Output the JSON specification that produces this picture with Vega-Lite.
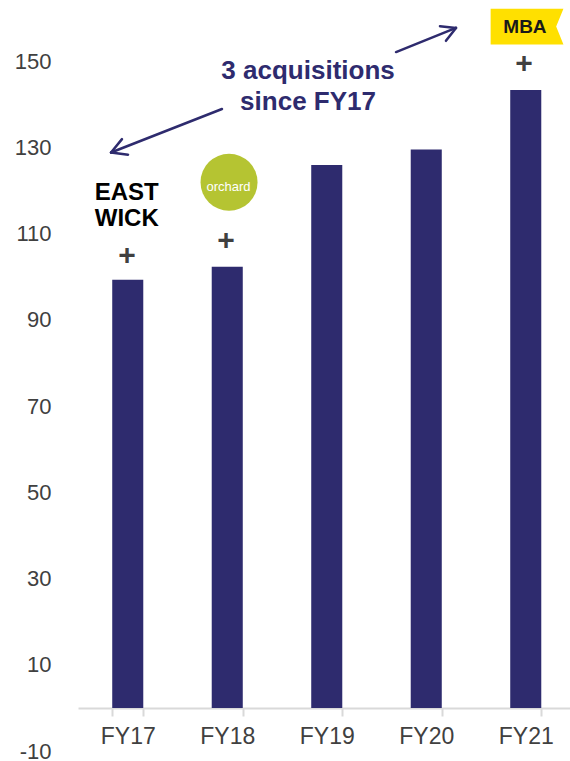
{
  "$schema": "https://vega.github.io/schema/vega-lite/v6.json",
  "width": 492,
  "height": 733,
  "autosize": {"type": "none"},
  "padding": {"left": 78, "top": 18, "right": 0, "bottom": 10},
  "background": "white",
  "config": {"view": {"stroke": null}, "font": "Liberation Sans"},
  "datasets": {
    "revenue": [
      {"year": "FY17", "value": 99.3},
      {"year": "FY18", "value": 102.3},
      {"year": "FY19", "value": 125.9},
      {"year": "FY20", "value": 129.5},
      {"year": "FY21", "value": 143.3}
    ],
    "arrows": [
      {"qx": 1.447, "y": 138.9, "qx2": 0.332, "y2": 128.8},
      {"qx": 0.332, "y": 128.8, "qx2": 0.503, "y2": 128.3},
      {"qx": 0.332, "y": 128.8, "qx2": 0.442, "y2": 131.9},
      {"qx": 3.196, "y": 152.1, "qx2": 3.799, "y2": 157.7},
      {"qx": 3.799, "y": 157.7, "qx2": 3.638, "y2": 158.1},
      {"qx": 3.799, "y": 157.7, "qx2": 3.698, "y2": 154.7}
    ],
    "notes": [
      {"qx": 2.312, "y": 147.7, "label": "3 acquisitions"},
      {"qx": 2.312, "y": 140.5, "label": "since FY17"}
    ],
    "plus": [
      {"qx": 0.492, "y": 104.8, "label": "+"},
      {"qx": 1.487, "y": 108.3, "label": "+"},
      {"qx": 4.482, "y": 149.3, "label": "+"}
    ],
    "eastwick": [
      {"qx": 0.49, "y": 119.5, "label": "EAST"},
      {"qx": 0.49, "y": 113.3, "label": "WICK"}
    ],
    "orchardLogo": [{"qx": 1.518, "y": 121.9}],
    "orchardText": [{"qx": 1.513, "y": 120.8, "label": "orchard"}],
    "mbaLogo": [{"qx": 4.513, "y": 158.0}],
    "mbaText": [{"qx": 4.492, "y": 158.0, "label": "MBA"}]
  },
  "layer": [
    {
      "data": {"name": "revenue"},
      "mark": {"type": "bar", "color": "#2e2b6e"},
      "encoding": {
        "x": {
          "field": "year", "type": "nominal", "sort": null, "title": null,
          "scale": {"range": [0, 497.5], "paddingInner": 0.688, "paddingOuter": 0.344},
          "axis": {
            "offset": -43, "domainColor": "#d9d9d9", "domainWidth": 2,
            "tickColor": "#d9d9d9", "tickWidth": 2, "tickSize": 8, "tickBand": "extent",
            "labelFontSize": 23, "labelColor": "#404040", "labelPadding": 9,
            "labelAngle": 0, "grid": false
          }
        },
        "y": {
          "field": "value", "type": "quantitative", "title": null,
          "scale": {"domain": [-10, 160], "nice": false},
          "axis": {
            "values": [-10, 10, 30, 50, 70, 90, 110, 130, 150],
            "labelExpr": "'' + datum.value",
            "domain": false, "ticks": false, "grid": false,
            "labelFontSize": 22, "labelColor": "#404040", "labelPadding": 27
          }
        },
        "y2": {"datum": 0}
      }
    },
    {
      "data": {"name": "arrows"},
      "mark": {"type": "rule", "color": "#2e2b6e", "strokeWidth": 2.5, "strokeCap": "round"},
      "encoding": {
        "x": {"field": "qx", "type": "quantitative", "scale": {"domain": [0, 5], "range": [0, 497.5]}, "axis": null},
        "x2": {"field": "qx2"},
        "y": {"field": "y", "type": "quantitative", "title": null},
        "y2": {"field": "y2"}
      }
    },
    {
      "data": {"name": "notes"},
      "mark": {"type": "text", "color": "#2e2b6e", "fontSize": 26, "fontWeight": "bold", "baseline": "middle", "align": "center"},
      "encoding": {
        "x": {"field": "qx", "type": "quantitative", "scale": {"domain": [0, 5], "range": [0, 497.5]}, "axis": null},
        "y": {"field": "y", "type": "quantitative", "title": null},
        "text": {"field": "label"}
      }
    },
    {
      "data": {"name": "plus"},
      "mark": {"type": "text", "color": "#404040", "fontSize": 30, "fontWeight": "bold", "baseline": "middle", "align": "center"},
      "encoding": {
        "x": {"field": "qx", "type": "quantitative", "scale": {"domain": [0, 5], "range": [0, 497.5]}, "axis": null},
        "y": {"field": "y", "type": "quantitative", "title": null},
        "text": {"field": "label"}
      }
    },
    {
      "data": {"name": "eastwick"},
      "mark": {"type": "text", "color": "#000000", "fontSize": 24, "fontWeight": "bold", "baseline": "middle", "align": "center"},
      "encoding": {
        "x": {"field": "qx", "type": "quantitative", "scale": {"domain": [0, 5], "range": [0, 497.5]}, "axis": null},
        "y": {"field": "y", "type": "quantitative", "title": null},
        "text": {"field": "label"}
      }
    },
    {
      "data": {"name": "orchardLogo"},
      "mark": {"type": "point", "shape": "circle", "filled": true, "color": "#b5c432", "opacity": 1, "size": 3250},
      "encoding": {
        "x": {"field": "qx", "type": "quantitative", "scale": {"domain": [0, 5], "range": [0, 497.5]}, "axis": null},
        "y": {"field": "y", "type": "quantitative", "title": null}
      }
    },
    {
      "data": {"name": "orchardText"},
      "mark": {"type": "text", "color": "#ffffff", "fontSize": 13, "baseline": "middle", "align": "center"},
      "encoding": {
        "x": {"field": "qx", "type": "quantitative", "scale": {"domain": [0, 5], "range": [0, 497.5]}, "axis": null},
        "y": {"field": "y", "type": "quantitative", "title": null},
        "text": {"field": "label"}
      }
    },
    {
      "data": {"name": "mbaLogo"},
      "mark": {"type": "point", "shape": "M-1,-0.49L1,-0.49L0.8,0L1,0.49L-1,0.49Z", "filled": true, "color": "#ffe000", "opacity": 1, "size": 5300},
      "encoding": {
        "x": {"field": "qx", "type": "quantitative", "scale": {"domain": [0, 5], "range": [0, 497.5]}, "axis": null},
        "y": {"field": "y", "type": "quantitative", "title": null}
      }
    },
    {
      "data": {"name": "mbaText"},
      "mark": {"type": "text", "color": "#1a1a1a", "fontSize": 19, "fontWeight": "bold", "baseline": "middle", "align": "center"},
      "encoding": {
        "x": {"field": "qx", "type": "quantitative", "scale": {"domain": [0, 5], "range": [0, 497.5]}, "axis": null},
        "y": {"field": "y", "type": "quantitative", "title": null},
        "text": {"field": "label"}
      }
    }
  ],
  "resolve": {"scale": {"x": "independent"}}
}
